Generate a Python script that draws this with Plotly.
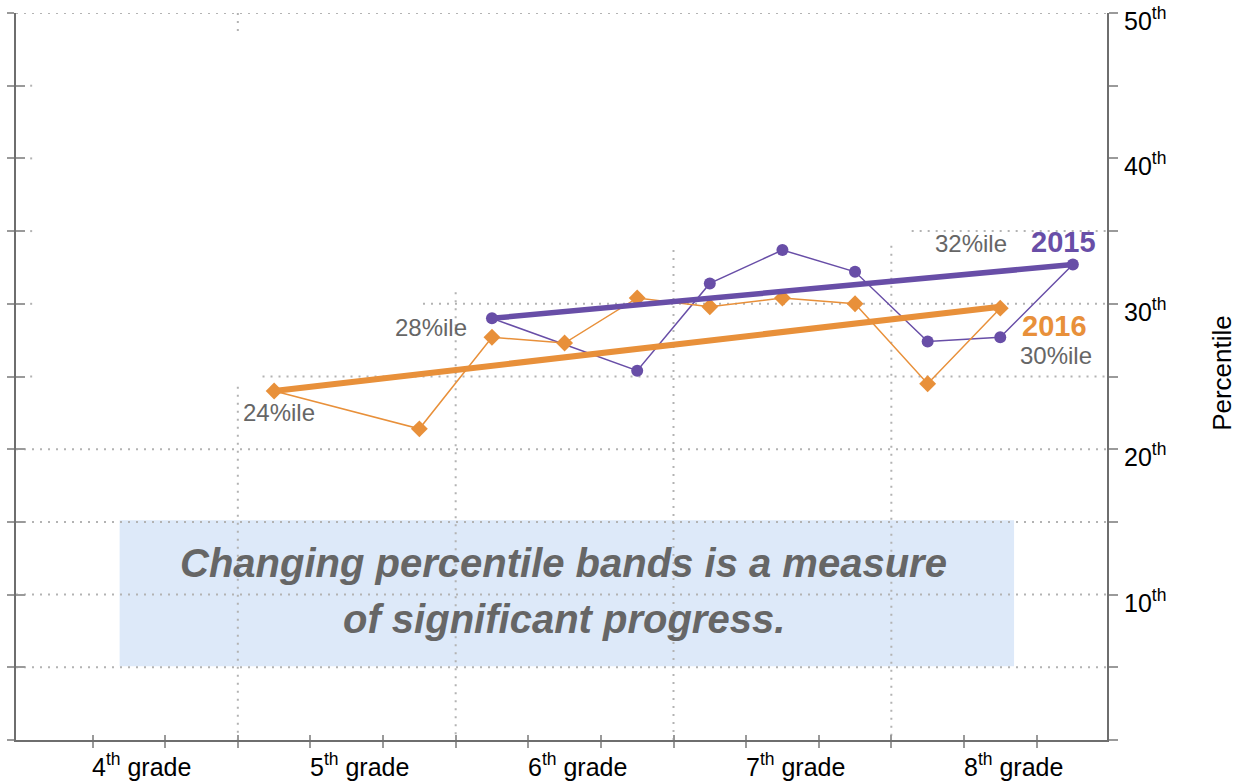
import plotly.graph_objects as go

# ---------------- data ----------------
grades = ["4<sup>th</sup> grade", "5<sup>th</sup> grade", "6<sup>th</sup> grade",
          "7<sup>th</sup> grade", "8<sup>th</sup> grade"]
grade_start = [1, 4, 7, 10, 13]          # tick where each grade label starts
minor_ticks = list(range(1, 15))

x_2015 = [6.5, 8.5, 9.5, 10.5, 11.5, 12.5, 13.5, 14.5]
y_2015 = [29.0, 25.4, 31.4, 33.7, 32.2, 27.4, 27.7, 32.7]
trend_x_2015 = [6.5, 14.5]
trend_y_2015 = [29.0, 32.7]

x_2016 = [3.5, 5.5, 6.5, 7.5, 8.5, 9.5, 10.5, 11.5, 12.5, 13.5]
y_2016 = [24.0, 21.4, 27.7, 27.3, 30.4, 29.8, 30.4, 30.0, 24.5, 29.7]
trend_x_2016 = [3.5, 13.5]
trend_y_2016 = [24.0, 29.8]

y_ticks = [0, 5, 10, 15, 20, 25, 30, 35, 40, 45, 50]
y_label_vals = [10, 20, 30, 40, 50]
y_label_text = [f"{v}<sup>th</sup>" for v in y_label_vals]

box_lines = ["Changing percentile bands is a measure", "of significant progress."]

PURPLE = "#684ea7"
ORANGE = "#e8903a"
GRAY_TXT = "#666666"
AX = "#6e6e6e"
TK = "#9a9a9a"
GRID = "#b3b3b3"
FONT = "Liberation Sans, Arial, sans-serif"

XR = [-0.055, 14.97]
YR = [0, 50]

fig = go.Figure()

# thin series lines
fig.add_trace(go.Scatter(x=x_2015, y=y_2015, mode="lines+markers",
                         line=dict(color=PURPLE, width=1.5),
                         marker=dict(symbol="circle", size=12, color=PURPLE),
                         showlegend=False, hoverinfo="skip", cliponaxis=False))
fig.add_trace(go.Scatter(x=x_2016, y=y_2016, mode="lines+markers",
                         line=dict(color=ORANGE, width=1.5),
                         marker=dict(symbol="diamond", size=13, color=ORANGE),
                         showlegend=False, hoverinfo="skip", cliponaxis=False))
# trend lines
fig.add_trace(go.Scatter(x=trend_x_2015, y=trend_y_2015, mode="lines",
                         line=dict(color=PURPLE, width=5.5),
                         showlegend=False, hoverinfo="skip"))
fig.add_trace(go.Scatter(x=trend_x_2016, y=trend_y_2016, mode="lines",
                         line=dict(color=ORANGE, width=6),
                         showlegend=False, hoverinfo="skip"))
# empty traces to hold overlay axes
fig.add_trace(go.Scatter(x=[], y=[], xaxis="x2", yaxis="y2", showlegend=False))
fig.add_trace(go.Scatter(x=[], y=[], xaxis="x", yaxis="y3", showlegend=False))

shapes = []
# message box
shapes.append(dict(type="rect", xref="x", yref="y", x0=1.372, x1=13.69, y0=5.08, y1=15.12,
                   fillcolor="#dde9f9", line=dict(width=0), layer="below"))

gl = dict(color=GRID, width=2, dash="2px,6px")
# horizontal partial gridlines (x0, x1, y)
hsegs = [(XR[0], XR[1], 50), (0.14, 0.17, 45), (0.14, 0.17, 40), (0.14, 0.17, 35),
         (12.28, XR[1], 35), (0.14, 0.17, 30), (5.55, XR[1], 30), (0.14, 0.17, 25),
         (3.34, XR[1], 25), (XR[0], XR[1], 20), (XR[0], XR[1], 15), (XR[0], XR[1], 10),
         (XR[0], XR[1], 5)]
for x0, x1, yv in hsegs:
    shapes.append(dict(type="line", xref="x", yref="y", x0=x0, x1=x1, y0=yv, y1=yv,
                       line=gl, layer="below"))
# vertical partial gridlines (x, y0, y1)
vsegs = [(3, 0, 24.3), (3, 48.4, 50), (6, 0, 30.8), (9, 0, 33.7), (12, 0, 34.0)]
for xv, y0, y1 in vsegs:
    shapes.append(dict(type="line", xref="x", yref="y", x0=xv, x1=xv, y0=y1, y1=y0,
                       line=gl, layer="below"))

ann = []
for g, xs in zip(grades, grade_start):
    ann.append(dict(text=g, x=xs - 0.03, xref="x", xanchor="left", y=0, yref="paper",
                    yanchor="top", yshift=-7, showarrow=False,
                    font=dict(size=25, color="black", family=FONT)))

# right-axis tick labels
for v, t in zip(y_label_vals, y_label_text):
    ann.append(dict(text=t, x=1, xref="paper", xanchor="left", xshift=15,
                    y=v, yref="y", yanchor="middle", yshift=-6, showarrow=False,
                    font=dict(size=25, color="black", family=FONT)))

def lab(text, x, y, xanchor, color=GRAY_TXT, size=24, bold=False):
    t = f"<b>{text}</b>" if bold else text
    ann.append(dict(text=t, x=x, y=y, xref="x", yref="y", xanchor=xanchor, yanchor="middle",
                    showarrow=False, font=dict(size=size, color=color, family=FONT)))

lab("28%ile", 6.19, 28.4, "right")
lab("24%ile", 3.05, 22.5, "left")
lab("32%ile", 12.58, 34.17, "left")
lab("30%ile", 14.79, 26.47, "right")
lab("2015", 14.84, 34.24, "right", color=PURPLE, size=29, bold=True)
lab("2016", 14.72, 28.46, "right", color=ORANGE, size=29, bold=True)

ann.append(dict(text=f"<b><i>{box_lines[0]}</i></b>", x=7.49, y=12.2, xref="x", yref="y",
                showarrow=False, font=dict(size=40, color=GRAY_TXT, family=FONT)))
ann.append(dict(text=f"<b><i>{box_lines[1]}</i></b>", x=7.49, y=8.3, xref="x", yref="y",
                showarrow=False, font=dict(size=40, color=GRAY_TXT, family=FONT)))

ann.append(dict(text="Percentile", textangle=-90, x=1, xref="paper", xanchor="center",
                xshift=115, y=0.505, yref="paper", yanchor="middle", showarrow=False,
                font=dict(size=26, color="black", family=FONT)))

fig.update_layout(
    width=1239, height=782,
    margin=dict(l=16, r=132, t=13, b=42, autoexpand=False),
    paper_bgcolor="white", plot_bgcolor="white",
    font=dict(family=FONT, color="black"),
    showlegend=False, hovermode=False,
    shapes=shapes, annotations=ann,
    xaxis=dict(range=XR, tickvals=minor_ticks, ticktext=[""] * len(minor_ticks),
               ticks="outside", ticklen=6, tickwidth=2, tickcolor=TK,
               showline=True, linecolor=AX, linewidth=2, mirror=False, automargin=False,
               showgrid=False, zeroline=False, showticklabels=False, fixedrange=True),
    xaxis2=dict(range=XR, overlaying="x", anchor="y", side="bottom", tickvals=minor_ticks,
                ticks="inside", ticklen=5, tickwidth=2, tickcolor=TK, automargin=False,
                showline=False, showgrid=False, zeroline=False, showticklabels=False),
    yaxis=dict(range=YR, side="right", tickvals=y_ticks,
               ticks="outside", ticklen=9, tickwidth=2, tickcolor=TK, automargin=False,
               showline=True, linecolor=AX, linewidth=2,
               showgrid=False, zeroline=False, showticklabels=False),
    yaxis2=dict(range=YR, overlaying="y", anchor="x2", side="left", tickvals=y_ticks,
                ticks="outside", ticklen=7, tickwidth=2, tickcolor=TK, automargin=False,
                showline=True, linecolor=AX, linewidth=2,
                showgrid=False, zeroline=False, showticklabels=False),
    yaxis3=dict(range=YR, overlaying="y", anchor="x", side="left", tickvals=y_ticks,
                ticks="inside", ticklen=9, tickwidth=2, tickcolor=TK, automargin=False,
                showline=False, showgrid=False, zeroline=False, showticklabels=False),
)

fig.write_html("out.html", config={"displayModeBar": False},
               post_script="document.body.style.margin='0';")
